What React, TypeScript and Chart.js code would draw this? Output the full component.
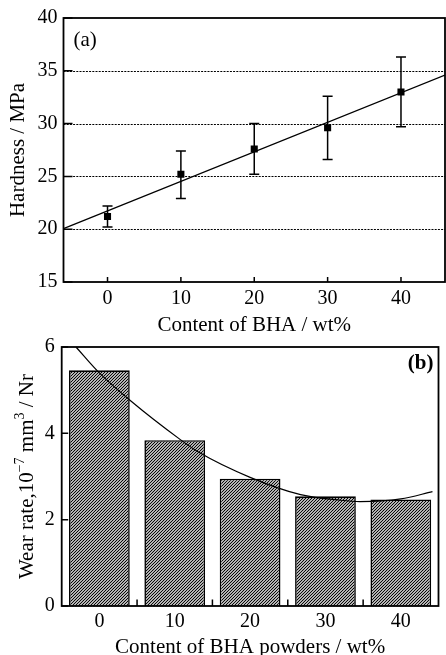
import React, { useEffect, useRef } from 'react';
import { Chart, registerables } from 'chart.js';
Chart.register(...registerables);

const FONT = "'Liberation Serif', 'Times New Roman', serif";

// ---- Panel (a): hardness ----
const hardnessContent = [0, 10, 20, 30, 40];
const hardnessMean = [21.2, 25.2, 27.6, 29.6, 33.0];
const hardnessLow = [20.2, 22.9, 25.2, 26.6, 29.7];
const hardnessHigh = [22.2, 27.4, 30.0, 32.6, 36.3];
const hardnessFitX = [-6, 46];
const hardnessFitY = [20.05, 34.6];
const hardnessXTicks = [0, 10, 20, 30, 40];
const hardnessYTicks = [15, 20, 25, 30, 35, 40];
const hardnessGrid = [20, 25, 30, 35];

// ---- Panel (b): wear rate ----
const wearContent = [0, 10, 20, 30, 40];
const wearRate = [5.46, 3.84, 2.95, 2.54, 2.47];
const wearFitX = [-3.1, 0, 4.1, 10.7, 13.2, 20, 26.7, 32, 34.6, 40, 44.2];
const wearFitY = [6.0, 5.4, 4.76, 3.86, 3.56, 2.98, 2.58, 2.45, 2.42, 2.48, 2.65];
const wearXTicks = [0, 10, 20, 30, 40];
const wearXTickMarks = [5, 15, 25, 35];
const wearYTicks = [0, 2, 4, 6];

function makeHatch(ctx: CanvasRenderingContext2D): CanvasPattern | string {
  const s = 6;
  const c = document.createElement('canvas');
  c.width = s;
  c.height = s;
  const g = c.getContext('2d');
  if (!g) return '#888';
  g.fillStyle = '#fff';
  g.fillRect(0, 0, s, s);
  g.strokeStyle = '#000';
  g.lineWidth = 1.15;
  g.beginPath();
  for (let k = 0; k <= 4; k++) {
    const d = k * 3;
    g.moveTo(d + 1, -1);
    g.lineTo(d - s - 1, s + 1);
  }
  g.stroke();
  return ctx.createPattern(c, 'repeat') || '#888';
}

export default function App() {
  const topRef = useRef<HTMLCanvasElement>(null);
  const botRef = useRef<HTMLCanvasElement>(null);

  useEffect(() => {
    const charts: Chart[] = [];
    const tickFont = { family: FONT, size: 20, lineHeight: 1 };
    const titleFont = { family: FONT, size: 21, lineHeight: 1 };

    if (topRef.current) {
      const panelA = {
        id: 'panelA',
        beforeDatasetsDraw(chart: any) {
          const { ctx, chartArea: a, scales } = chart;
          ctx.save();
          ctx.strokeStyle = '#000';
          ctx.lineWidth = 1.1;
          ctx.setLineDash([2, 1.2]);
          ctx.beginPath();
          hardnessGrid.forEach((v) => {
            const py = Math.round(scales.y.getPixelForValue(v)) + 0.5;
            ctx.moveTo(a.left, py);
            ctx.lineTo(a.right, py);
          });
          ctx.stroke();
          ctx.restore();
        },
        afterDatasetsDraw(chart: any) {
          const { ctx, scales } = chart;
          ctx.save();
          ctx.strokeStyle = '#000';
          ctx.lineWidth = 1.5;
          ctx.beginPath();
          hardnessContent.forEach((v, i) => {
            const px = scales.x.getPixelForValue(v);
            const lo = scales.y.getPixelForValue(hardnessLow[i]);
            const hi = scales.y.getPixelForValue(hardnessHigh[i]);
            ctx.moveTo(px, lo);
            ctx.lineTo(px, hi);
            ctx.moveTo(px - 5, lo);
            ctx.lineTo(px + 5, lo);
            ctx.moveTo(px - 5, hi);
            ctx.lineTo(px + 5, hi);
          });
          ctx.stroke();
          ctx.restore();
        },
        afterDraw(chart: any) {
          const { ctx, chartArea: a, scales } = chart;
          ctx.save();
          ctx.strokeStyle = '#000';
          ctx.lineWidth = 1.8;
          ctx.strokeRect(a.left, a.top, a.right - a.left, a.bottom - a.top);
          ctx.lineWidth = 1.5;
          ctx.beginPath();
          hardnessXTicks.forEach((v) => {
            const px = scales.x.getPixelForValue(v);
            ctx.moveTo(px, a.bottom);
            ctx.lineTo(px, a.bottom - 5);
          });
          hardnessYTicks.forEach((v) => {
            const py = scales.y.getPixelForValue(v);
            ctx.moveTo(a.left, py);
            ctx.lineTo(a.left + 9, py);
          });
          ctx.stroke();
          ctx.fillStyle = '#000';
          ctx.font = `21px ${FONT}`;
          ctx.textAlign = 'left';
          ctx.textBaseline = 'middle';
          ctx.fillText('(a)', a.left + 10, a.top + 22);
          ctx.restore();
        },
      };

      charts.push(
        new Chart(topRef.current, {
          type: 'scatter',
          data: {
            datasets: [
              {
                type: 'scatter',
                data: hardnessContent.map((x, i) => ({ x, y: hardnessMean[i] })),
                pointStyle: 'rect',
                pointRadius: 5,
                backgroundColor: '#000',
                borderWidth: 0,
                order: 0,
              } as any,
              {
                type: 'line',
                data: hardnessFitX.map((x, i) => ({ x, y: hardnessFitY[i] })),
                showLine: true,
                borderColor: '#000',
                borderWidth: 1.3,
                pointRadius: 0,
                tension: 0,
                order: 1,
              } as any,
            ],
          },
          options: {
            responsive: false,
            animation: false,
            layout: { padding: { top: 18, right: 3.7, left: 0, bottom: 0 } },
            plugins: { legend: { display: false }, tooltip: { enabled: false } },
            scales: {
              x: {
                type: 'linear',
                min: -6,
                max: 46,
                grid: { display: false, drawTicks: false },
                border: { display: false },
                afterBuildTicks: (s: any) => {
                  s.ticks = hardnessXTicks.map((value) => ({ value }));
                },
                afterFit: (s: any) => {
                  s.height = 54;
                },
                ticks: { color: '#000', font: tickFont, padding: 7, maxRotation: 0 },
                title: {
                  display: true,
                  text: 'Content of BHA / wt%',
                  color: '#000',
                  font: titleFont,
                  padding: { top: 0, bottom: 0 },
                },
              },
              y: {
                type: 'linear',
                min: 15,
                max: 40,
                grid: { display: false, drawTicks: false },
                border: { display: false },
                afterBuildTicks: (s: any) => {
                  s.ticks = hardnessYTicks.map((value) => ({ value }));
                },
                afterFit: (s: any) => {
                  s.width = 63.5;
                },
                ticks: { color: '#000', font: tickFont, padding: 6 },
                title: {
                  display: true,
                  text: 'Hardness / MPa',
                  color: '#000',
                  font: titleFont,
                  padding: { top: 7.5, bottom: 0 },
                },
              },
            },
          },
          plugins: [panelA],
        } as any)
      );
    }

    if (botRef.current) {
      const ctx0 = botRef.current.getContext('2d') as CanvasRenderingContext2D;
      const hatch = makeHatch(ctx0);
      const panelB = {
        id: 'panelB',
        afterDraw(chart: any) {
          const { ctx, chartArea: a, scales } = chart;
          ctx.save();
          ctx.strokeStyle = '#000';
          ctx.lineWidth = 1.8;
          ctx.strokeRect(a.left, a.top, a.right - a.left, a.bottom - a.top);
          ctx.lineWidth = 1.5;
          ctx.beginPath();
          wearXTickMarks.forEach((v) => {
            const px = scales.x.getPixelForValue(v);
            ctx.moveTo(px, a.bottom);
            ctx.lineTo(px, a.bottom - 6.5);
          });
          wearYTicks.forEach((v) => {
            const py = scales.y.getPixelForValue(v);
            ctx.moveTo(a.left, py);
            ctx.lineTo(a.left + 6.5, py);
          });
          ctx.stroke();
          ctx.fillStyle = '#000';
          ctx.font = `bold 21px ${FONT}`;
          ctx.textAlign = 'right';
          ctx.textBaseline = 'middle';
          ctx.fillText('(b)', a.right - 5, a.top + 17);

          // y-axis title with superscripts
          const segs = [
            { t: 'Wear rate,10', sup: false },
            { t: '\u22127', sup: true },
            { t: ' mm', sup: false },
            { t: '3', sup: true },
            { t: ' / Nr', sup: false },
          ];
          const big = `21px ${FONT}`;
          const small = `14px ${FONT}`;
          let total = 0;
          segs.forEach((s) => {
            ctx.font = s.sup ? small : big;
            total += ctx.measureText(s.t).width;
          });
          const cx = scales.y.left + 27;
          const cy = (a.top + a.bottom) / 2;
          ctx.translate(cx, cy);
          ctx.rotate(-Math.PI / 2);
          ctx.textAlign = 'left';
          ctx.textBaseline = 'middle';
          let xPos = -total / 2;
          segs.forEach((s) => {
            ctx.font = s.sup ? small : big;
            ctx.fillText(s.t, xPos, s.sup ? -7 : 0);
            xPos += ctx.measureText(s.t).width;
          });
          ctx.restore();
        },
      };

      charts.push(
        new Chart(botRef.current, {
          type: 'bar',
          data: {
            datasets: [
              {
                type: 'line',
                data: wearFitX.map((x, i) => ({ x, y: wearFitY[i] })),
                borderColor: '#000',
                borderWidth: 1.2,
                pointRadius: 0,
                cubicInterpolationMode: 'monotone',
                order: 0,
              } as any,
              {
                type: 'bar',
                data: wearContent.map((x, i) => ({ x, y: wearRate[i] })),
                backgroundColor: hatch,
                borderColor: '#000',
                borderWidth: 1.6,
                barPercentage: 1,
                categoryPercentage: 0.806,
                order: 1,
              } as any,
            ],
          },
          options: {
            responsive: false,
            animation: false,
            layout: { padding: { top: 10, right: 7.5, left: 0, bottom: 0 } },
            plugins: { legend: { display: false }, tooltip: { enabled: false } },
            scales: {
              x: {
                type: 'linear',
                min: -5,
                max: 45,
                offset: false,
                grid: { display: false, drawTicks: false },
                border: { display: false },
                afterBuildTicks: (s: any) => {
                  s.ticks = wearXTicks.map((value) => ({ value }));
                },
                afterFit: (s: any) => {
                  s.height = 54;
                },
                ticks: { color: '#000', font: tickFont, padding: 6, maxRotation: 0 },
                title: {
                  display: true,
                  text: 'Content of BHA powders / wt%',
                  color: '#000',
                  font: titleFont,
                  padding: { top: 0, bottom: 2 },
                },
              },
              y: {
                type: 'linear',
                min: 0,
                max: 6,
                grid: { display: false, drawTicks: false },
                border: { display: false },
                afterBuildTicks: (s: any) => {
                  s.ticks = wearYTicks.map((value) => ({ value }));
                },
                afterFit: (s: any) => {
                  s.width = 61.7;
                },
                ticks: { color: '#000', font: tickFont, padding: 7 },
                title: { display: false },
              },
            },
          },
          plugins: [panelB],
        } as any)
      );
    }

    return () => charts.forEach((c) => c.destroy());
  }, []);

  return (
    <div
      style={{
        position: 'fixed',
        left: 0,
        top: 0,
        width: 446,
        height: 655,
        overflow: 'hidden',
        background: '#fff',
      }}
    >
      <canvas ref={topRef} width={450} height={336} style={{ position: 'absolute', left: 0, top: 0 }} />
      <canvas ref={botRef} width={446} height={330} style={{ position: 'absolute', left: 0, top: 330 }} />
    </div>
  );
}
